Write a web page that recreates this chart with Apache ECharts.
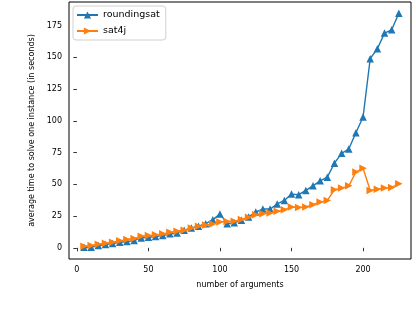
<!DOCTYPE html>
<html>
<head>
<meta charset="utf-8">
<script src="https://cdn.jsdelivr.net/npm/echarts@6/dist/echarts.min.js"></script>
<style>html,body{margin:0;padding:0;background:#fff}#c{width:416px;height:324px}</style>
</head>
<body>
<div id="c"></div>
<script>
const numArgs = [5,10,15,20,25,30,35,40,45,50,55,60,65,70,75,80,85,90,95,100,105,110,115,120,125,130,135,140,145,150,155,160,165,170,175,180,185,190,195,200,205,210,215,220,225];
const roundingsat = [0.5,0.5,1.8,2.6,3.4,4.4,5.0,5.7,7.8,8.3,8.9,9.6,11.0,11.7,13.8,15.7,17.0,19.0,22.0,26.7,19.0,19.7,21.8,24.3,28.2,30.5,30.5,34.5,37.3,42.3,41.8,45.2,48.8,52.7,55.6,66.6,74.4,77.8,90.6,103.0,148.9,156.7,169.0,171.6,184.6];
const sat4j = [1.3,1.8,2.8,3.6,4.4,5.5,6.5,7.3,9.1,9.6,10.2,11.0,12.2,13.0,13.8,15.7,16.9,18.0,18.8,20.4,20.8,21.0,22.2,24.0,26.1,26.9,27.4,28.7,30.0,32.1,31.8,32.1,33.9,36.0,37.3,45.7,47.0,48.8,59.6,62.7,45.1,46.2,47.0,47.5,50.4];
const xTicks = [0,50,100,150,200];
const yTicks = [0,25,50,75,100,125,150,175];

const font = 'DejaVu Sans';
const chart = echarts.init(document.getElementById('c'), null, {renderer:'canvas'});
function pairs(ys){ return numArgs.map((x,i)=>[x, ys[i]]); }
chart.setOption({
  animation:false,
  backgroundColor:'#fff',
  grid:{left:69, top:2, right:5, bottom:65, show:true, borderColor:'#000', borderWidth:1, backgroundColor:'transparent'},
  legend:{
    orient:'vertical', left:73, top:6,
    backgroundColor:'#fff', borderColor:'#d0d0d0', borderWidth:1, borderRadius:3,
    padding:[4,6,4,3], itemGap:6, itemWidth:21, itemHeight:9,
    textStyle:{fontFamily:font, fontSize:9.5, color:'#000'},
    data:['roundingsat','sat4j']
  },
  xAxis:{
    type:'value', min:-5.5, max:233.5,
    name:'number of arguments', nameLocation:'middle', nameGap:22,
    nameTextStyle:{fontFamily:font, fontSize:8, color:'#000'},
    axisLine:{show:false},
    axisTick:{show:true, length:3.5, lineStyle:{color:'#000', width:0.8}, customValues:xTicks},
    axisLabel:{fontFamily:font, fontSize:8, color:'#000', margin:7, customValues:xTicks},
    splitLine:{show:false}
  },
  yAxis:{
    type:'value', min:-8.8, max:193.5,
    name:'average time to solve one instance (in seconds)', nameLocation:'middle', nameGap:32,
    nameTextStyle:{fontFamily:font, fontSize:8, color:'#000'},
    axisLine:{show:false},
    axisTick:{show:true, length:3.5, lineStyle:{color:'#000', width:0.8}, customValues:yTicks},
    axisLabel:{fontFamily:font, fontSize:8, color:'#000', margin:7, customValues:yTicks},
    splitLine:{show:false}
  },
  series:[
    {name:'roundingsat', type:'line', data:pairs(roundingsat), symbol:'triangle', symbolSize:7.5,
     showAllSymbol:true, color:'#1f77b4', lineStyle:{width:1.4}, itemStyle:{color:'#1f77b4'}, z:2},
    {name:'sat4j', type:'line', data:pairs(sat4j), symbol:'triangle', symbolSize:7.5, symbolRotate:-90,
     showAllSymbol:true, color:'#ff7f0e', lineStyle:{width:1.4}, itemStyle:{color:'#ff7f0e'}, z:3}
  ]
});
</script>
</body>
</html>
